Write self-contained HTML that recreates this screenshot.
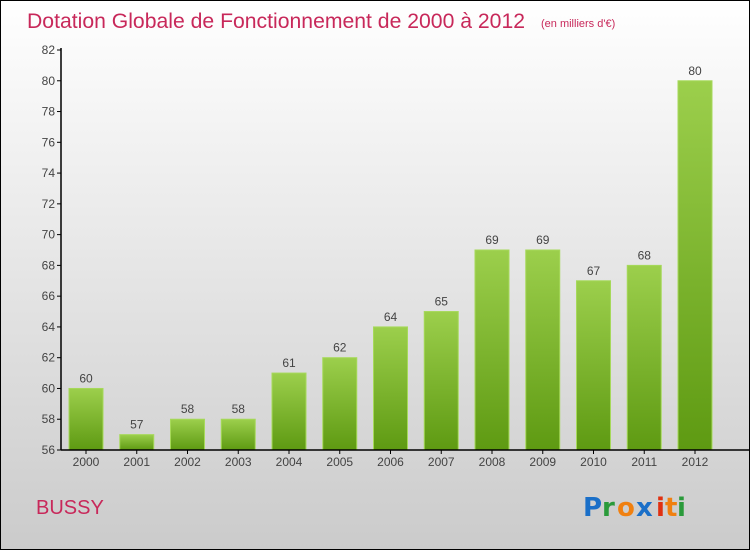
<!DOCTYPE html>
<html><head><meta charset="utf-8"><style>
html,body{margin:0;padding:0}
body{width:750px;height:550px;overflow:hidden;font-family:"Liberation Sans",sans-serif}
</style></head><body>
<svg id="chart" width="750" height="550" xmlns="http://www.w3.org/2000/svg">
<defs>
<linearGradient id="bg" x1="0" y1="0" x2="0" y2="1"><stop offset="0" stop-color="#ffffff"/><stop offset="1" stop-color="#cbcbcb"/></linearGradient>
<linearGradient id="bar" x1="0" y1="0" x2="0" y2="1"><stop offset="0" stop-color="#9ccf4c"/><stop offset="1" stop-color="#5e9a12"/></linearGradient>
</defs>
<rect x="0.5" y="0.5" width="749" height="549" fill="url(#bg)" stroke="#000" stroke-width="1"/>
<text x="27" y="28" font-size="21" fill="#c8285a" textLength="498" lengthAdjust="spacingAndGlyphs">Dotation Globale de Fonctionnement de 2000 à 2012</text>
<text x="541" y="27" font-size="11" fill="#c8285a">(en milliers d'€)</text>
<text x="36" y="514" font-size="20" fill="#c8285a">BUSSY</text>
<g font-size="26" font-weight="bold" font-family="'DejaVu Sans',sans-serif">
<text x="583" y="516" fill="#1a6fc8">P</text><text x="602" y="516" fill="#2a9a3a">r</text><text x="617" y="516" fill="#f08010">o</text><text x="636" y="516" fill="#1a6fc8">x</text><text x="656" y="516" fill="#e03010">i</text><text x="665" y="516" fill="#f08010">t</text><text x="677" y="516" fill="#2a9a3a">i</text>
</g>
<g id="plot"></g>
</svg>
<script>
const years=["2000","2001","2002","2003","2004","2005","2006","2007","2008","2009","2010","2011","2012"];
const values=[60,57,58,58,61,62,64,65,69,69,67,68,80];
const yTicks=[56,58,60,62,64,66,68,70,72,74,76,78,80,82];
const NS="http://www.w3.org/2000/svg";
const g=document.getElementById('plot');
const y0=450,y1=50,vmin=56,vmax=82;
const yScale=v=>y0-(v-vmin)/(vmax-vmin)*(y0-y1);
const xScale=i=>86+i*50.75;
function el(t,a,txt){const e=document.createElementNS(NS,t);for(const k in a)e.setAttribute(k,a[k]);if(txt!==undefined)e.textContent=txt;g.appendChild(e);return e;}
yTicks.forEach(v=>{const y=yScale(v);
const tk=el('line',{x1:57,x2:61,y1:y,y2:y,stroke:'#000'});


const t=el('text',{x:55,y:y+4,'text-anchor':'end','font-size':12,fill:'#444'},v);


});
values.forEach((v,i)=>{const cx=xScale(i),yt=yScale(v);
const r=el('rect',{x:cx-17,y:yt,width:34,height:y0-yt,fill:'url(#bar)',stroke:'#a6d95a','stroke-width':1});


const t=el('text',{x:cx,y:yt-6,'text-anchor':'middle','font-size':12,fill:'#444'},v);


const tk=el('line',{x1:cx,x2:cx,y1:y0,y2:y0+4,stroke:'#000'});


const xl=el('text',{x:cx,y:466,'text-anchor':'middle','font-size':12,fill:'#444'},years[i]);


});
const ya=el('line',{x1:61,x2:61,y1:48,y2:y0,stroke:'#000','stroke-width':1.5});


const xa=el('line',{x1:61,x2:750,y1:y0,y2:y0,stroke:'#000','stroke-width':1.5});


</script>
</body></html>
